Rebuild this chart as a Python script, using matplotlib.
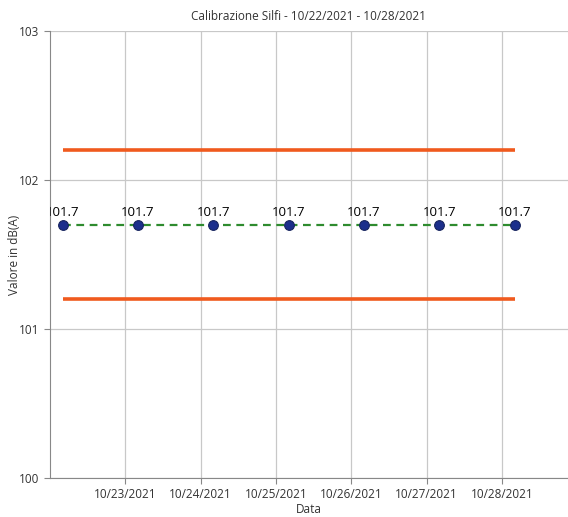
import matplotlib
matplotlib.use('Agg')
import matplotlib.pyplot as plt
import matplotlib.dates as mdates
import numpy as np
import pandas as pd

# misure di calibrazione
date = pd.to_datetime(['2021-10-22 04:00', '2021-10-23 04:00', '2021-10-24 04:00',
                       '2021-10-25 04:00', '2021-10-26 04:00', '2021-10-27 04:00',
                       '2021-10-28 04:00'])
valori = [101.7, 101.7, 101.7, 101.7, 101.7, 101.7, 101.7]
limite_sup = [102.2] * 7
limite_inf = [101.2] * 7
tick_date = pd.to_datetime(['2021-10-23', '2021-10-24', '2021-10-25',
                            '2021-10-26', '2021-10-27', '2021-10-28'])

plt.rcParams['font.family'] = ['Open Sans', 'DejaVu Sans']

fig = plt.figure(figsize=(5.68, 5.17), dpi=100)
ax = fig.add_axes([0.088, 0.0754, 0.912, 0.8646])

ax.plot(date, limite_sup, color='#f05a1e', lw=2.6, solid_capstyle='butt', zorder=3)
ax.plot(date, limite_inf, color='#f05a1e', lw=2.6, solid_capstyle='butt', zorder=3)
ax.plot(date, valori, color='#2e8b2e', lw=1.6, ls=(0, (3.5, 2.5)), zorder=4)
ax.plot(date, valori, 'o', ms=7, color='#1c2f8c', mec='#17245e', mew=0.8, zorder=5)

for d, v in zip(date, valori):
    t = ax.annotate(f'{v}', (d, v), xytext=(0, 4), textcoords='offset points',
                    ha='center', va='bottom', fontsize=9.5, color='black')
    t.set_clip_box(ax.bbox)
    t.set_clip_on(True)

ax.set_ylim(100, 103)
ax.set_yticks([100, 101, 102, 103])
ax.set_xlim(pd.Timestamp('2021-10-22 00:00'), pd.Timestamp('2021-10-28 21:00'))
ax.set_xticks(tick_date)
ax.xaxis.set_major_formatter(mdates.DateFormatter('%m/%d/%Y'))

ax.grid(True, color='#c8c8c8', lw=0.9)
ax.set_axisbelow(True)
for s in ['top', 'right']:
    ax.spines[s].set_visible(False)
for s in ['left', 'bottom']:
    ax.spines[s].set_color('#888888')
ax.tick_params(colors='#888888', labelcolor='#333333', labelsize=8.5, length=4)

ax.set_title('Calibrazione Silfi - 10/22/2021 - 10/28/2021', fontsize=8.5, color='#333333', pad=8)
ax.set_xlabel('Data', fontsize=8.5, color='#333333', labelpad=1)
ax.set_ylabel('Valore in dB(A)', fontsize=8.5, color='#333333')
ax.yaxis.set_label_coords(-0.056, 0.5)

fig.savefig('out.png', dpi=100)
